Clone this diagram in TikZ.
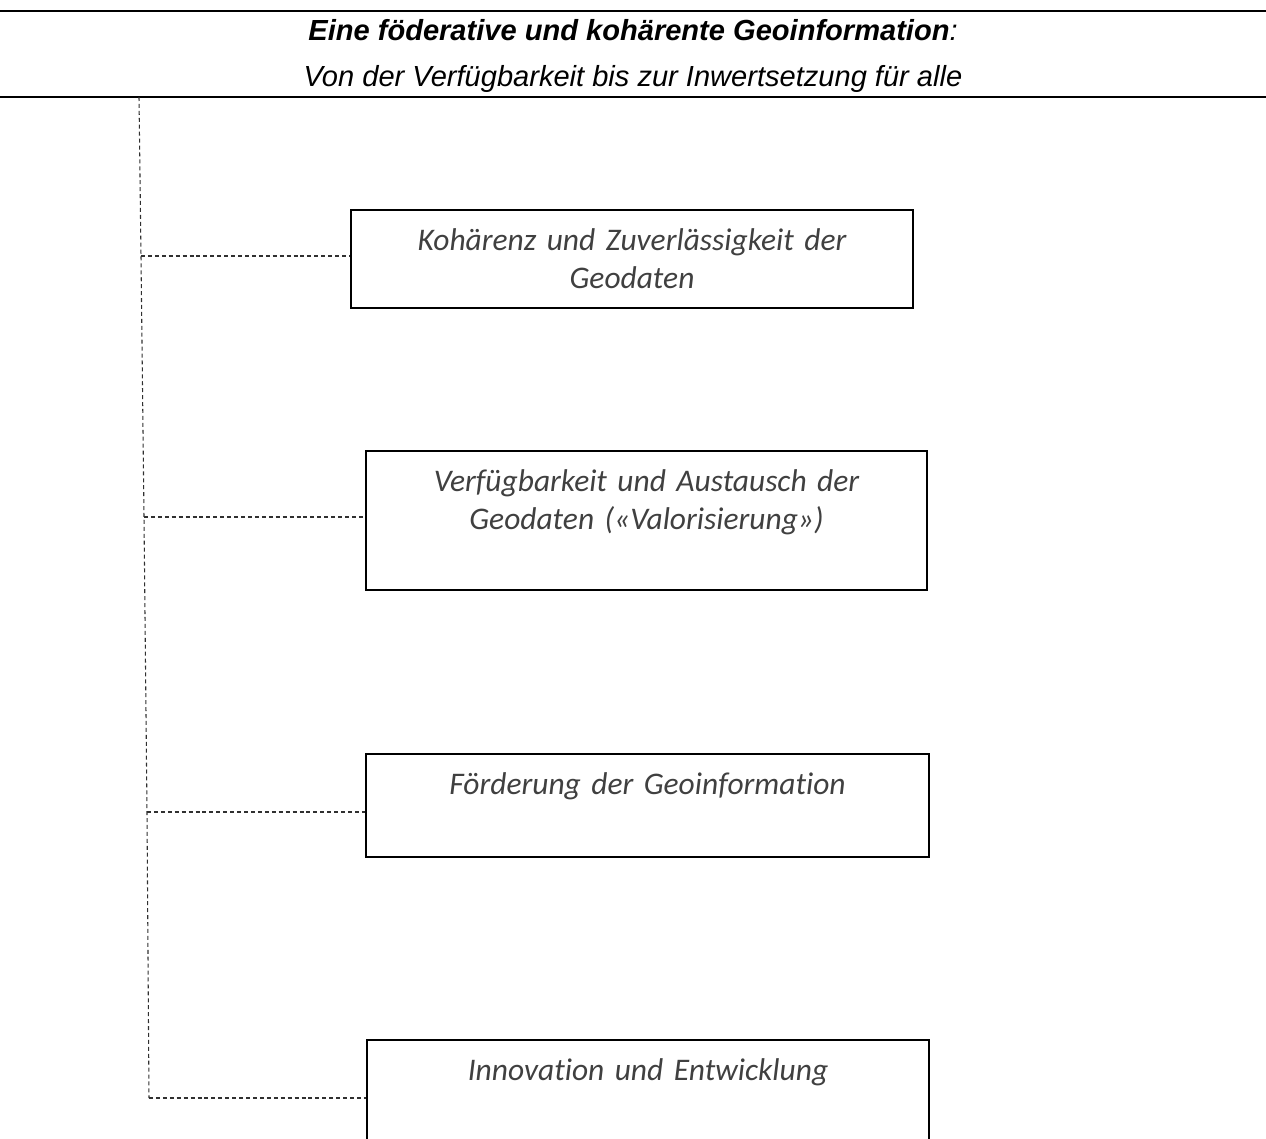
\documentclass[tikz,border=0pt]{standalone}
\usepackage{fontspec}
\setmainfont{Carlito}[Ligatures=NoCommon]
\newfontfamily\arialfont{Liberation Sans}
\usepackage{tikz}
\usetikzlibrary{arrows,positioning}
\definecolor{boxgrey}{HTML}{404040}
\definecolor{linkgrey}{HTML}{303030}

\begin{document}
\begin{tikzpicture}[x=0.75pt,y=-0.75pt,
  goalbox/.style={draw=black,line width=1.1pt,rectangle,inner sep=0pt},
  goaltext/.style={anchor=base,align=center,text width=410pt,text=boxgrey,
    font=\fontsize{23.6}{28.5}\selectfont\itshape},
  headtext/.style={anchor=base,font=\arialfont\fontsize{21.8}{26}\selectfont\itshape},
  link/.style={draw=linkgrey,line width=0.8pt,dash pattern=on 3pt off 2.2pt}]
\useasboundingbox (0,0) rectangle (1266,1138) ;
\clip (0,0) rectangle (1266,1138) ;

% header
\draw[line width=1.5pt] (0,11) -- (1266,11) ;
\draw[line width=1.5pt] (0,97) -- (1266,97) ;
\node[headtext] (title) at (633,41) {\textbf{Eine föderative und kohärente Geoinformation}:} ;
\node[headtext] (subtitle) at (633,86) {Von der Verfügbarkeit bis zur Inwertsetzung für alle} ;

% goals
\node[goalbox,minimum width=421.5pt,minimum height=73.5pt] (koh) at (632,259) {} ;
\node[goaltext] (koh-t) at ([yshift=-30.75pt]koh.north) {Kohärenz und Zuverlässigkeit der\\Geodaten} ;

\node[goalbox,minimum width=420.75pt,minimum height=104.25pt] (verf) at (646.5,520.5) {} ;
\node[goaltext] (verf-t) at ([yshift=-30.75pt]verf.north) {Verfügbarkeit und Austausch der\\Geodaten («Valorisierung»)} ;

\node[goalbox,minimum width=422.25pt,minimum height=77.25pt] (foerd) at (647.5,805.5) {} ;
\node[goaltext] (foerd-t) at ([yshift=-30.75pt]foerd.north) {Förderung der Geoinformation} ;

\node[goalbox,minimum width=421.5pt,minimum height=105pt] (innov) at (648,1110) {} ;
\node[goaltext] (innov-t) at ([yshift=-30.75pt]innov.north) {Innovation und Entwicklung} ;

% dashed tree
\coordinate (root) at (139,97) ;
\coordinate (j1) at (141,256) ;
\coordinate (j2) at (144,517) ;
\coordinate (j3) at (147,812) ;
\coordinate (j4) at (149,1098) ;
\draw[link] (root) -- (j1) -- (j2) -- (j3) -- (j4) ;
\draw[link] (j1) -- (j1 -| koh.west) ;
\draw[link] (j2) -- (j2 -| verf.west) ;
\draw[link] (j3) -- (j3 -| foerd.west) ;
\draw[link] (j4) -- (j4 -| innov.west) ;
\end{tikzpicture}
\end{document}
